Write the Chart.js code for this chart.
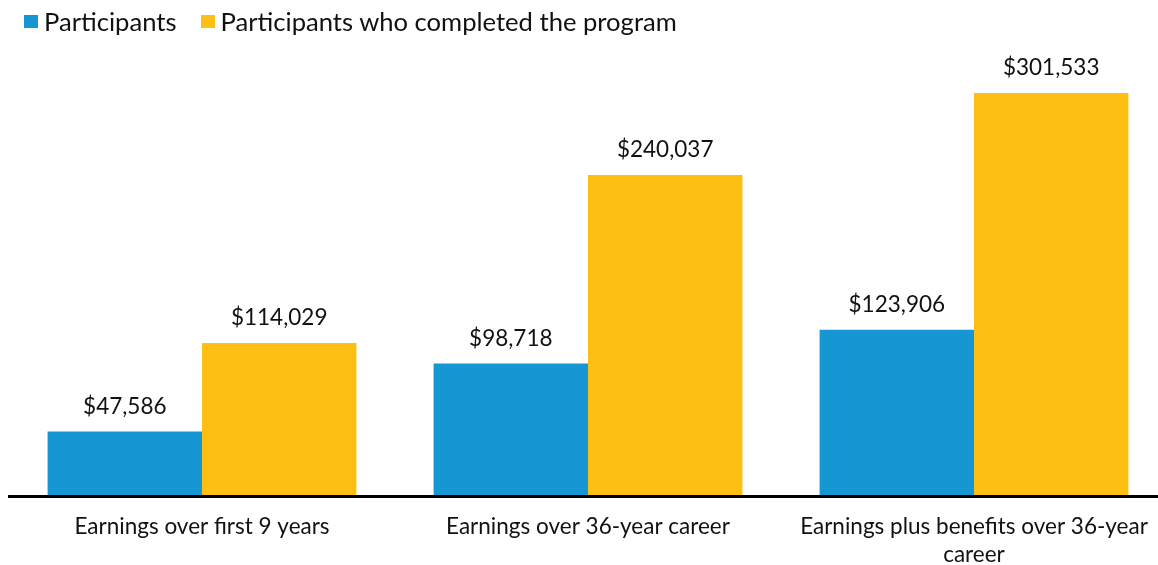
<!DOCTYPE html>
<html>
<head>
<meta charset="utf-8">
<script src="https://cdn.jsdelivr.net/npm/chart.js@4.4.1/dist/chart.umd.min.js"></script>
<style>
  html, body { margin: 0; padding: 0; background: #fff; overflow: hidden; }
  #wrap { position: relative; width: 1167px; height: 565px; }
  #legend { position: absolute; left: 24px; top: 4px; display: flex; font-family: Lato, sans-serif; font-size: 25.6px; line-height: 34px; color: #111; }
  #legend .item { display: flex; align-items: center; margin-right: 24px; }
  #legend .box { width: 14px; height: 13px; margin-right: 6px; }
</style>
</head>
<body>
<div id="wrap">
  <div id="legend"></div>
  <canvas id="barChart" width="1167" height="565"></canvas>
</div>
<script>
var categories = [
  'Earnings over first 9 years',
  'Earnings over 36-year career',
  ['Earnings plus benefits over 36-year', 'career']
];
var seriesNames = ['Participants', 'Participants who completed the program'];
var participants = [47586, 98718, 123906];
var completed = [114029, 240037, 301533];
var colors = ['#1696d2', '#fdbf11'];

// html legend
var legend = document.getElementById('legend');
seriesNames.forEach(function (name, i) {
  var item = document.createElement('div');
  item.className = 'item';
  var box = document.createElement('span');
  box.className = 'box';
  box.style.background = colors[i];
  var txt = document.createElement('span');
  txt.textContent = name;
  item.appendChild(box);
  item.appendChild(txt);
  legend.appendChild(item);
});

// value labels above bars + baseline
var barLabels = {
  id: 'barLabels',
  afterDatasetsDraw: function (chart) {
    var ctx = chart.ctx;
    var area = chart.chartArea;
    ctx.save();
    ctx.strokeStyle = '#000';
    ctx.lineWidth = 3;
    ctx.beginPath();
    ctx.moveTo(area.left - 1, area.bottom + 1.5);
    ctx.lineTo(area.right, area.bottom + 1.5);
    ctx.stroke();

    ctx.font = '22.5px Lato';
    ctx.fillStyle = '#111';
    ctx.textAlign = 'center';
    ctx.textBaseline = 'middle';
    chart.data.datasets.forEach(function (ds, i) {
      chart.getDatasetMeta(i).data.forEach(function (bar, j) {
        ctx.fillText('$' + ds.data[j].toLocaleString('en-US'), bar.x, bar.y - 25);
      });
    });
    ctx.restore();
  }
};

var ctx = document.getElementById('barChart').getContext('2d');
var chart = new Chart(ctx, {
  type: 'bar',
  data: {
    labels: categories,
    datasets: [{
      label: seriesNames[0],
      backgroundColor: colors[0],
      data: participants
    }, {
      label: seriesNames[1],
      backgroundColor: colors[1],
      data: completed
    }]
  },
  options: {
    responsive: false,
    animation: false,
    layout: { padding: { top: 55, left: 9, right: 0, bottom: 0 } },
    datasets: { bar: { categoryPercentage: 0.8, barPercentage: 1.0 } },
    plugins: {
      legend: { display: false },
      tooltip: { enabled: false }
    },
    scales: {
      x: {
        grid: { display: false, drawTicks: false },
        border: { display: false },
        afterFit: function (scale) { scale.height = 70; },
        ticks: {
          color: '#111',
          padding: 18,
          maxRotation: 0,
          font: { family: 'Lato', size: 22.5, lineHeight: 1.25 }
        }
      },
      y: {
        display: false,
        min: 0,
        max: 330000
      }
    }
  },
  plugins: [barLabels]
});
</script>
</body>
</html>
